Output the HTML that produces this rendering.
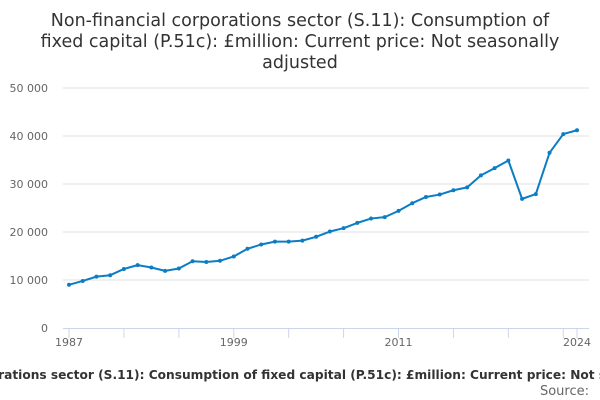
<!DOCTYPE html>
<html><head><meta charset="utf-8"><style>
body{margin:0;width:600px;height:400px;overflow:hidden;background:#fff;font-family:"DejaVu Sans","Liberation Sans",sans-serif}
svg{display:block}
</style></head><body>
<svg id="chart" width="600" height="400">
<text x="300" y="26" text-anchor="middle" font-size="17.5" fill="#333"><tspan x="300">Non-financial corporations sector (S.11): Consumption of</tspan><tspan x="300" dy="21">fixed capital (P.51c): £million: Current price: Not seasonally</tspan><tspan x="300" dy="21">adjusted</tspan></text>
<g id="grid"></g><g id="xaxis"></g><g id="series"></g>
<text x="300" y="379" text-anchor="middle" font-size="12.2" font-weight="bold" fill="#333">Non-financial corporations sector (S.11): Consumption of fixed capital (P.51c): £million: Current price: Not seasonally adjusted</text>
<text x="589" y="395" text-anchor="end" font-size="13" fill="#666">Source:</text>
</svg>
<script>
const years=[1987,1988,1989,1990,1991,1992,1993,1994,1995,1996,1997,1998,1999,2000,2001,2002,2003,2004,2005,2006,2007,2008,2009,2010,2011,2012,2013,2014,2015,2016,2017,2018,2019,2020,2021,2022,2023,2024];
const values=[9000,9800,10700,11000,12300,13100,12600,11900,12400,13900,13750,14000,14900,16500,17400,18000,18000,18200,19000,20100,20800,21900,22800,23100,24400,26000,27300,27800,28700,29300,31800,33300,34900,26900,27900,36500,40400,41200];
const yTicks=[0,10000,20000,30000,40000,50000];
const yTickLabels=["0","10 000","20 000","30 000","40 000","50 000"];
const xLabelYears=[1987,1999,2011,2024];
const NS="http://www.w3.org/2000/svg";
const x0=69,x1=577,yb=328,yt=88;
const xs=y=>x0+(y-years[0])/(years[years.length-1]-years[0])*(x1-x0);
const ys=v=>yb-v/50000*(yb-yt);
function mk(t,a,p){const e=document.createElementNS(NS,t);for(const k in a)e.setAttribute(k,a[k]);p.appendChild(e);return e;}
const grid=document.getElementById('grid'),xa=document.getElementById('xaxis'),se=document.getElementById('series');
yTicks.forEach((v,i)=>{
 if(v>0){const l=mk('line',{x1:63,x2:589,y1:ys(v),y2:ys(v),stroke:'#e0e0e0'},grid);
 
 }
 const t=mk('text',{x:48,y:ys(v)+4,'text-anchor':'end','font-size':11,fill:'#666'},grid);
 
 
 t.textContent=yTickLabels[i];
});
const ax=mk('line',{x1:63,x2:589,y1:yb+0.5,y2:yb+0.5,stroke:'#ccd6eb'},xa);


for(let y=years[0];y<=years[years.length-1];y+=4){
 const m=mk('line',{x1:xs(y),x2:xs(y),y1:yb,y2:yb+10,stroke:'#ccd6eb'},xa);
 
 
}
const mt=mk('line',{x1:xs(2024),x2:xs(2024),y1:yb,y2:yb+10,stroke:'#ccd6eb'},xa);


xLabelYears.forEach(y=>{
 const t=mk('text',{x:xs(y),y:346,'text-anchor':'middle','font-size':11,fill:'#666'},xa);
 
 
 t.textContent=y;
});
const pts=years.map((y,i)=>xs(y)+','+ys(values[i])).join(' ');
const pl=mk('polyline',{points:pts,fill:'none',stroke:'#0a7dc4','stroke-width':2,'stroke-linejoin':'round'},se);


years.forEach((y,i)=>{
 const c=mk('circle',{cx:xs(y),cy:ys(values[i]),r:2,fill:'#0a7dc4'},se);
 
 
});
</script>
</body></html>
